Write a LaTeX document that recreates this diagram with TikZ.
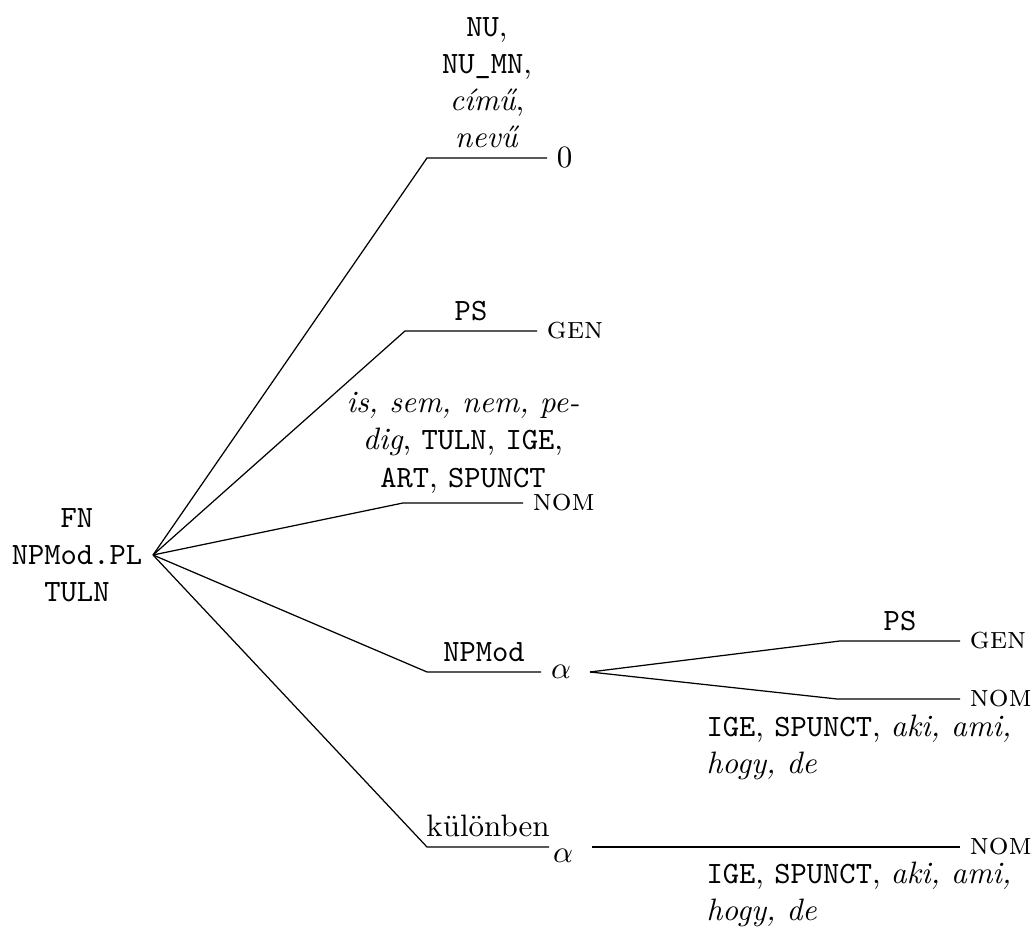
\documentclass[tikz,border=0pt]{standalone}
\begin{document}
\begin{tikzpicture}[x=0.3226pt,y=-0.3226pt,
  edge/.style={draw=black,line width=0.4pt},
  leaf/.style={anchor=west,inner xsep=3pt},
  lab/.style={align=center,inner sep=3pt},
  sublab/.style={align=left,anchor=north west,inner sep=0pt},
  greek/.style={inner xsep=3pt}]
\useasboundingbox (0,0) rectangle (1036,948);

% root of the tree
\node[align=center] (root) at (77,555) {\texttt{FN}\\\texttt{NPMod.PL}\\\texttt{TULN}};

% knees where each branch turns horizontal
\coordinate (k1) at (427,158);
\coordinate (k2) at (405,331);
\coordinate (k3) at (403,503);
\coordinate (k4) at (427,672);
\coordinate (k5) at (427,847);

% leaves
\node[leaf] (l1) at (547,158) {0};
\node[leaf] (l2) at (537,331) {\textsc{gen}};
\node[leaf] (l3) at (523,503) {\textsc{nom}};
\node[greek] (a4) at (561,672) {$\alpha$};
\node[greek] (a5) at (563,856) {$\alpha$};
\coordinate (e5) at (549,847);

% branch 1
\draw[edge] (root.east) -- (k1) -- (l1.west)
  node[lab,midway,above] (t1) {\texttt{NU},\\\texttt{NU\_MN},\\\textit{című},\\\textit{nevű}};
% branch 2
\draw[edge] (root.east) -- (k2) -- (l2.west)
  node[lab,midway,above] (t2) {\texttt{PS}};
% branch 3
\draw[edge] (root.east) -- (k3) -- (l3.west)
  node[lab,midway,above] (t3) {\textit{is, sem, nem, pe-}\\\textit{dig}, \texttt{TULN}, \texttt{IGE},\\\texttt{ART}, \texttt{SPUNCT}};
% branch 4
\draw[edge] (root.east) -- (k4) -- (a4.west)
  node[lab,midway,above] (t4) {\texttt{NPMod}};
% branch 5
\draw[edge] (root.east) -- (k5) -- (e5)
  node[lab,midway,above] (t5) {különben};

% subtree below the first alpha
\coordinate (f4) at (590,672);
\coordinate (k41) at (840,641);
\coordinate (k42) at (837,699);
\node[leaf] (l41) at (960,641) {\textsc{gen}};
\node[leaf] (l42) at (960,699) {\textsc{nom}};
\draw[edge] (f4) -- (k41) -- (l41.west)
  node[lab,midway,above] (t41) {\texttt{PS}};
\draw[edge] (f4) -- (k42) -- (l42.west);
\node[sublab] (t42) at (706,714) {\texttt{IGE}, \texttt{SPUNCT}, \textit{aki, ami,}\\\textit{hogy, de}};

% subtree below the second alpha
\coordinate (f5) at (592,847);
\node[leaf] (l5) at (960,847) {\textsc{nom}};
\draw[edge] (f5) -- (l5.west);
\node[sublab] (t51) at (706,861) {\texttt{IGE}, \texttt{SPUNCT}, \textit{aki, ami,}\\\textit{hogy, de}};
\end{tikzpicture}
\end{document}
